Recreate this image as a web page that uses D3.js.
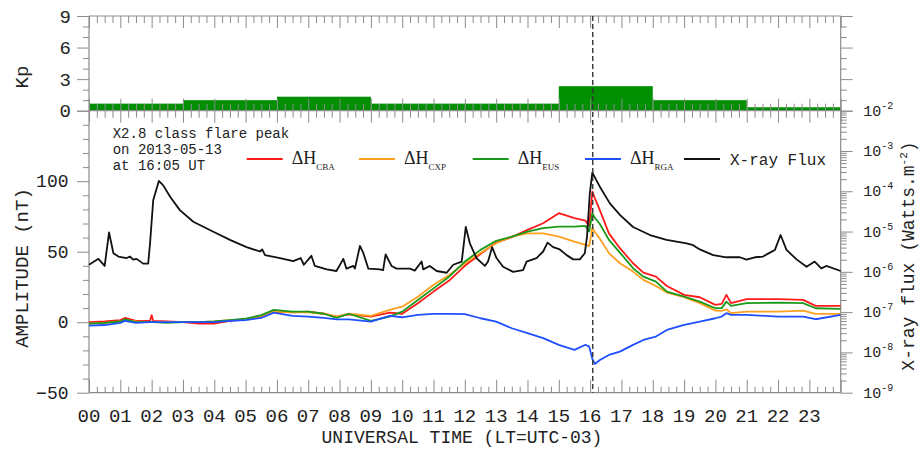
<!DOCTYPE html>
<html lang="en">
<head>
<meta charset="utf-8">
<title>X2.8 flare 2013-05-13</title>
<script src="https://d3js.org/d3.v7.min.js"></script>
<style>
  body { margin: 0; background: #fff; }
  svg { display: block; background: #fff; }
  text { font-family: "Liberation Mono", "DejaVu Sans Mono", monospace; fill: #222; }
  .tick line { stroke: #8c8c8c; stroke-width: 1; }
</style>
</head>
<body>
<svg id="chart" width="922" height="456"></svg>
<script>
// Kp index, 3-hour blocks
const kpStart = [0, 3, 6, 9, 12, 15, 18, 21];
const kpValue = [0.67, 1, 1.33, 0.67, 0.67, 2.33, 1, 0.33];

// ground magnetometers, delta H (nT)
const hTime = [0, 0.5, 1.0, 1.15, 1.5, 1.95, 2.0, 2.05, 2.5, 3.0, 3.5, 4.0, 4.5, 5.0, 5.5, 5.9, 6.5, 7.0, 7.5, 7.9, 8.3, 9.0, 9.6, 10, 10.5, 11, 11.5, 12, 12.5, 13, 13.5, 14, 14.5, 15, 15.5, 15.85, 15.97, 16.07, 16.15, 16.3, 16.6, 16.95, 17.37, 17.7, 18.1, 18.45, 19, 19.5, 20, 20.2, 20.35, 20.5, 21, 22, 22.8, 23.2, 24];
const dhCBA = [0, 0.5, 1.5, 3, 1, 1, 5, 1, 0.5, 0, -1, -1, 1, 2, 4, 7.5, 7, 7.5, 6, 4, 5.5, 4, 6.8, 6, 13.5, 21.7, 29.5, 40, 48.4, 56.5, 60.3, 65.5, 70.2, 77.3, 73.8, 72, 68, 92.6, 88, 80, 63, 52.5, 41.8, 35.2, 32.3, 25.7, 19.4, 17.7, 12.3, 13, 19.4, 13.5, 16.3, 16.3, 15.8, 11.6, 11.6];
const dhCXP = [-1, -0.5, 0.5, 1.5, 0.5, 0, 0, 0, 0, 0, 0, 0.5, 1.5, 2, 4.5, 7.5, 7, 7, 6, 4, 6, 4.5, 8.7, 11, 18, 26.5, 33.5, 41.8, 49, 56, 60.7, 63, 63, 60.7, 57.2, 54.8, 54, 67, 64, 59.6, 49, 41.8, 35.9, 30, 25.7, 21, 17.7, 13.5, 8.2, 8, 9.2, 6.4, 7.5, 7.5, 8.2, 5.9, 5.9];
const dhEUS = [-1, -0.5, 0.5, 2, 0, 0, 0, 0, -0.5, 0, 0, 0.5, 1.5, 2.5, 5, 8.7, 7.5, 7.5, 6, 3, 6, 1, 4, 7.5, 15.8, 24, 32.3, 43, 51.3, 57.7, 60.7, 64.3, 66.7, 67.8, 67.8, 68.3, 64.3, 77.3, 74, 70, 58.4, 49.4, 38.3, 32.3, 28.8, 21.7, 18.2, 14.6, 9.9, 10, 14.6, 11.6, 13.5, 13.9, 13.5, 9.9, 9.4];
const dhRGA = [-2.5, -2, -0.5, 1, -0.5, 0, 0, 0, 0, 0, 0, 0, 1, 1.5, 3, 6.8, 4.5, 4, 3, 2, 2, 0.4, 4.5, 3.5, 5.2, 5.9, 5.9, 5.7, 2.8, 0.4, -4.3, -7.8, -11.3, -16.1, -19.6, -16, -17.3, -26, -29.6, -27, -23.2, -20.9, -16.1, -12.6, -10.2, -5.5, -1.9, 0.4, 2.8, 4, 6.4, 5.2, 5.2, 4, 4, 2.1, 5.2];

// GOES X-ray flux (W m^-2)
const xrTime = [0, 0.3, 0.5, 0.64, 0.78, 0.94, 1.2, 1.31, 1.41, 1.52, 1.73, 1.89, 1.95, 2.05, 2.23, 2.37, 2.59, 2.9, 3.33, 3.97, 4.5, 5.03, 5.46, 5.53, 5.62, 6.1, 6.52, 6.76, 6.86, 7.1, 7.21, 7.59, 7.9, 8.12, 8.22, 8.44, 8.49, 8.65, 8.76, 8.92, 9.29, 9.39, 9.47, 9.66, 9.82, 10.25, 10.4, 10.62, 10.67, 10.88, 11.1, 11.42, 11.63, 11.9, 12.03, 12.16, 12.37, 12.64, 12.74, 12.87, 13.01, 13.22, 13.54, 13.86, 13.97, 14.29, 14.5, 14.64, 14.82, 15.03, 15.25, 15.46, 15.67, 15.83, 15.9, 15.99, 16.07, 16.31, 16.63, 16.95, 17.37, 17.91, 18.44, 19.08, 19.29, 19.5, 19.93, 20.35, 20.78, 20.99, 21.26, 21.52, 21.74, 21.9, 22.08, 22.27, 22.59, 22.91, 23.17, 23.38, 23.54, 24];
const xrFlux = [1.5e-6, 2.1e-6, 1.4e-6, 9.5e-6, 2.9e-6, 2.4e-6, 2.2e-6, 2.4e-6, 2.0e-6, 2.1e-6, 1.6e-6, 1.6e-6, 5.2e-6, 6e-5, 1.8e-4, 1.4e-4, 7.3e-5, 3.4e-5, 1.75e-5, 9.9e-6, 6.2e-6, 4.1e-6, 3.2e-6, 3.6e-6, 2.6e-6, 2.2e-6, 1.85e-6, 2.2e-6, 1.5e-6, 2.5e-6, 1.4e-6, 1.15e-6, 1.05e-6, 2.1e-6, 1.2e-6, 1.4e-6, 1.2e-6, 4.4e-6, 2.9e-6, 1.2e-6, 1.15e-6, 1.1e-6, 2.7e-6, 1.4e-6, 1.2e-6, 1.2e-6, 1.07e-6, 1.8e-6, 1.15e-6, 1.4e-6, 1.05e-6, 9.5e-7, 1.5e-6, 1.8e-6, 1.3e-5, 5.1e-6, 2.2e-6, 1.4e-6, 1.8e-6, 4.1e-6, 2.2e-6, 1.34e-6, 1.0e-6, 1.1e-6, 1.8e-6, 2.2e-6, 3.2e-6, 5.3e-6, 4.1e-6, 3.6e-6, 2.6e-6, 2.04e-6, 2.04e-6, 2.9e-6, 7.4e-6, 8.9e-5, 2.9e-4, 1.3e-4, 5.0e-5, 2.6e-5, 1.3e-5, 8.2e-6, 6.2e-6, 5.1e-6, 4.6e-6, 3.6e-6, 2.6e-6, 2.3e-6, 2.3e-6, 2.0e-6, 2.3e-6, 2.4e-6, 3.0e-6, 3.5e-6, 8.2e-6, 3.5e-6, 2.04e-6, 1.34e-6, 1.8e-6, 1.22e-6, 1.4e-6, 1.05e-6];

const flareTime = 16 + 5 / 60;
const hourLabels = d3.range(0, 24);
const noteLines = ["X2.8 class flare peak", "on 2013-05-13", "at 16:05 UT"];
const stations = ["CBA", "CXP", "EUS", "RGA"];
const stationColors = ["#ff1a1a", "#ffa020", "#1a9a1a", "#1f50ff"];

// layout
const L = 89, R = 840.7, kpTop = 16, mid = 110.7, bot = 392.7;
const svg = d3.select("#chart");

const x = d3.scaleLinear().domain([0, 24]).range([L, R]);
const kpY = d3.scaleLinear().domain([0, 9]).range([mid, kpTop]);
const y = d3.scaleLinear().domain([-50, 150]).range([bot, mid]);
const yLog = d3.scaleLog().domain([1e-9, 1e-2]).range([bot, mid]);

// Kp bars
svg.append("g").selectAll("rect")
  .data(kpStart)
  .join("rect")
  .attr("x", d => x(d))
  .attr("width", d => x(d + 3) - x(d))
  .attr("y", (d, i) => kpY(kpValue[i]))
  .attr("height", (d, i) => kpY(0) - kpY(kpValue[i]))
  .attr("fill", "#008f00");

// tick helper
function ticks(axis, tx, ty) {
  svg.append("g")
    .attr("transform", `translate(${tx},${ty})`)
    .call(axis)
    .call(g => g.select(".domain").remove())
    .call(g => g.selectAll("text").remove());
}
const majorH = d3.range(0, 25);
const minorH = d3.range(0, 96).map(i => i / 4).filter(h => h % 1 !== 0);

// hour ticks: kp top (down), kp bottom (up), lower top (down), lower bottom (up)
ticks(d3.axisBottom(x).tickValues(majorH).tickSize(12), 0, kpTop);
ticks(d3.axisBottom(x).tickValues(minorH).tickSize(7), 0, kpTop);
ticks(d3.axisBottom(x).tickValues(majorH).tickSize(-12), 0, mid);
ticks(d3.axisBottom(x).tickValues(minorH).tickSize(-7), 0, mid);
ticks(d3.axisBottom(x).tickValues(majorH).tickSize(12), 0, mid);
ticks(d3.axisBottom(x).tickValues(minorH).tickSize(7), 0, mid);
ticks(d3.axisBottom(x).tickValues(majorH).tickSize(-13), 0, bot);
ticks(d3.axisBottom(x).tickValues(minorH).tickSize(-6), 0, bot);

// Kp axes
ticks(d3.axisLeft(kpY).tickValues([0, 3, 6, 9]).tickSize(12), L, 0);
ticks(d3.axisLeft(kpY).tickValues([1, 2, 4, 5, 7, 8]).tickSize(6), L, 0);
ticks(d3.axisRight(kpY).tickValues([0, 3, 6, 9]).tickSize(12), R, 0);
ticks(d3.axisRight(kpY).tickValues([1, 2, 4, 5, 7, 8]).tickSize(6), R, 0);

// amplitude axis
ticks(d3.axisLeft(y).tickValues([-50, 0, 50, 100, 150]).tickSize(12), L, 0);
ticks(d3.axisLeft(y).tickValues(d3.range(-40, 150, 10).filter(v => v % 50 !== 0)).tickSize(6), L, 0);

// flux axis
const logMajor = d3.range(-9, -1).map(e => Math.pow(10, e));
const logMinor = [];
d3.range(-9, -2).forEach(e => d3.range(2, 10).forEach(m => logMinor.push(m * Math.pow(10, e))));
ticks(d3.axisRight(yLog).tickValues(logMajor).tickSize(12), R, 0);
ticks(d3.axisRight(yLog).tickValues(logMinor).tickSize(6), R, 0);

// frame
const frame = svg.append("g").attr("stroke", "#8c8c8c").attr("stroke-width", 1.2);
[kpTop, mid, bot].forEach(v => frame.append("line").attr("x1", L).attr("x2", R).attr("y1", v).attr("y2", v));
[L, R].forEach(v => frame.append("line").attr("x1", v).attr("x2", v).attr("y1", kpTop).attr("y2", bot));

// tick labels
svg.append("g").selectAll("text")
  .data(hourLabels)
  .join("text")
  .attr("x", d => x(d))
  .attr("y", 421.7)
  .attr("text-anchor", "middle")
  .attr("font-size", 19)
  .text(d => d3.format("02d")(d));

svg.append("g").selectAll("text")
  .data([0, 3, 6, 9])
  .join("text")
  .attr("x", 71)
  .attr("y", d => kpY(d) + 6.5)
  .attr("text-anchor", "end")
  .attr("font-size", 19)
  .text(d => d);

svg.append("g").selectAll("text")
  .data([-50, 0, 50, 100])
  .join("text")
  .attr("x", 68.5)
  .attr("y", d => y(d) + 6.2)
  .attr("text-anchor", "end")
  .attr("font-size", 18)
  .text(d => d < 0 ? "\u2212" + Math.abs(d) : d);

const logLab = svg.append("g").selectAll("text")
  .data(logMajor)
  .join("text")
  .attr("x", 863.3)
  .attr("y", d => yLog(d) + 5)
  .attr("font-size", 15);
logLab.append("tspan").text("10");
logLab.append("tspan")
  .attr("font-size", 10)
  .attr("dy", -7)
  .text(d => "-" + Math.round(-Math.log10(d)));

// axis titles
svg.append("text")
  .attr("transform", "translate(28,77) rotate(-90)")
  .attr("text-anchor", "middle")
  .attr("font-size", 19)
  .text("Kp");
svg.append("text")
  .attr("transform", "translate(28,268) rotate(-90)")
  .attr("text-anchor", "middle")
  .attr("font-size", 19)
  .text("AMPLITUDE (nT)");
const rt = svg.append("text")
  .attr("transform", "translate(914,256) rotate(-90)")
  .attr("text-anchor", "middle")
  .attr("font-size", 18);
rt.append("tspan").text("X-ray flux (Watts.m");
rt.append("tspan").attr("font-size", 11).attr("dy", -7).text("-2");
rt.append("tspan").attr("dy", 7).text(")");
svg.append("text")
  .attr("x", 462)
  .attr("y", 443)
  .attr("text-anchor", "middle")
  .attr("font-size", 18)
  .text("UNIVERSAL TIME (LT=UTC-03)");

// series
const plot = svg.append("g");
const hLine = vals => d3.line().x((d, i) => x(hTime[i])).y((d, i) => y(vals[i]))(vals);
[dhCBA, dhCXP, dhEUS, dhRGA].forEach((vals, k) => {
  plot.append("path")
    .attr("d", hLine(vals))
    .attr("fill", "none")
    .attr("stroke", stationColors[k])
    .attr("stroke-width", 1.8)
    .attr("stroke-linejoin", "round");
});
plot.append("path")
  .attr("d", d3.line().x((d, i) => x(xrTime[i])).y(d => yLog(d))(xrFlux))
  .attr("fill", "none")
  .attr("stroke", "#111")
  .attr("stroke-width", 1.8)
  .attr("stroke-linejoin", "round");

// flare peak marker
svg.append("line")
  .attr("x1", x(flareTime)).attr("x2", x(flareTime))
  .attr("y1", kpTop).attr("y2", bot)
  .attr("stroke", "#333")
  .attr("stroke-width", 1.4)
  .attr("stroke-dasharray", "5,3");

// note
svg.append("g").selectAll("text")
  .data(noteLines)
  .join("text")
  .attr("x", 112.7)
  .attr("y", (d, i) => 137.7 + i * 16.2)
  .attr("font-size", 14)
  .text(d => d);

// legend (style() so the serif font wins over the css rule)
const legX = [246.7, 359, 472.7, 585];
stations.forEach((s, k) => {
  svg.append("line")
    .attr("x1", legX[k]).attr("x2", legX[k] + 36)
    .attr("y1", 159).attr("y2", 159)
    .attr("stroke", stationColors[k]).attr("stroke-width", 2);
  const t = svg.append("text")
    .attr("x", legX[k] + 45)
    .attr("y", 163.5)
    .style("font-family", "'Liberation Serif', 'DejaVu Serif', serif")
    .attr("font-size", 18);
  t.append("tspan").text("\u0394H");
  t.append("tspan")
    .style("font-family", "'Liberation Serif', 'DejaVu Serif', serif")
    .attr("font-size", 9)
    .attr("dy", 6)
    .text(s);
});
svg.append("line")
  .attr("x1", 684).attr("x2", 720)
  .attr("y1", 159).attr("y2", 159)
  .attr("stroke", "#111").attr("stroke-width", 2);
svg.append("text")
  .attr("x", 730)
  .attr("y", 164.5)
  .attr("font-size", 16)
  .text("X-ray Flux");
</script>
</body>
</html>
